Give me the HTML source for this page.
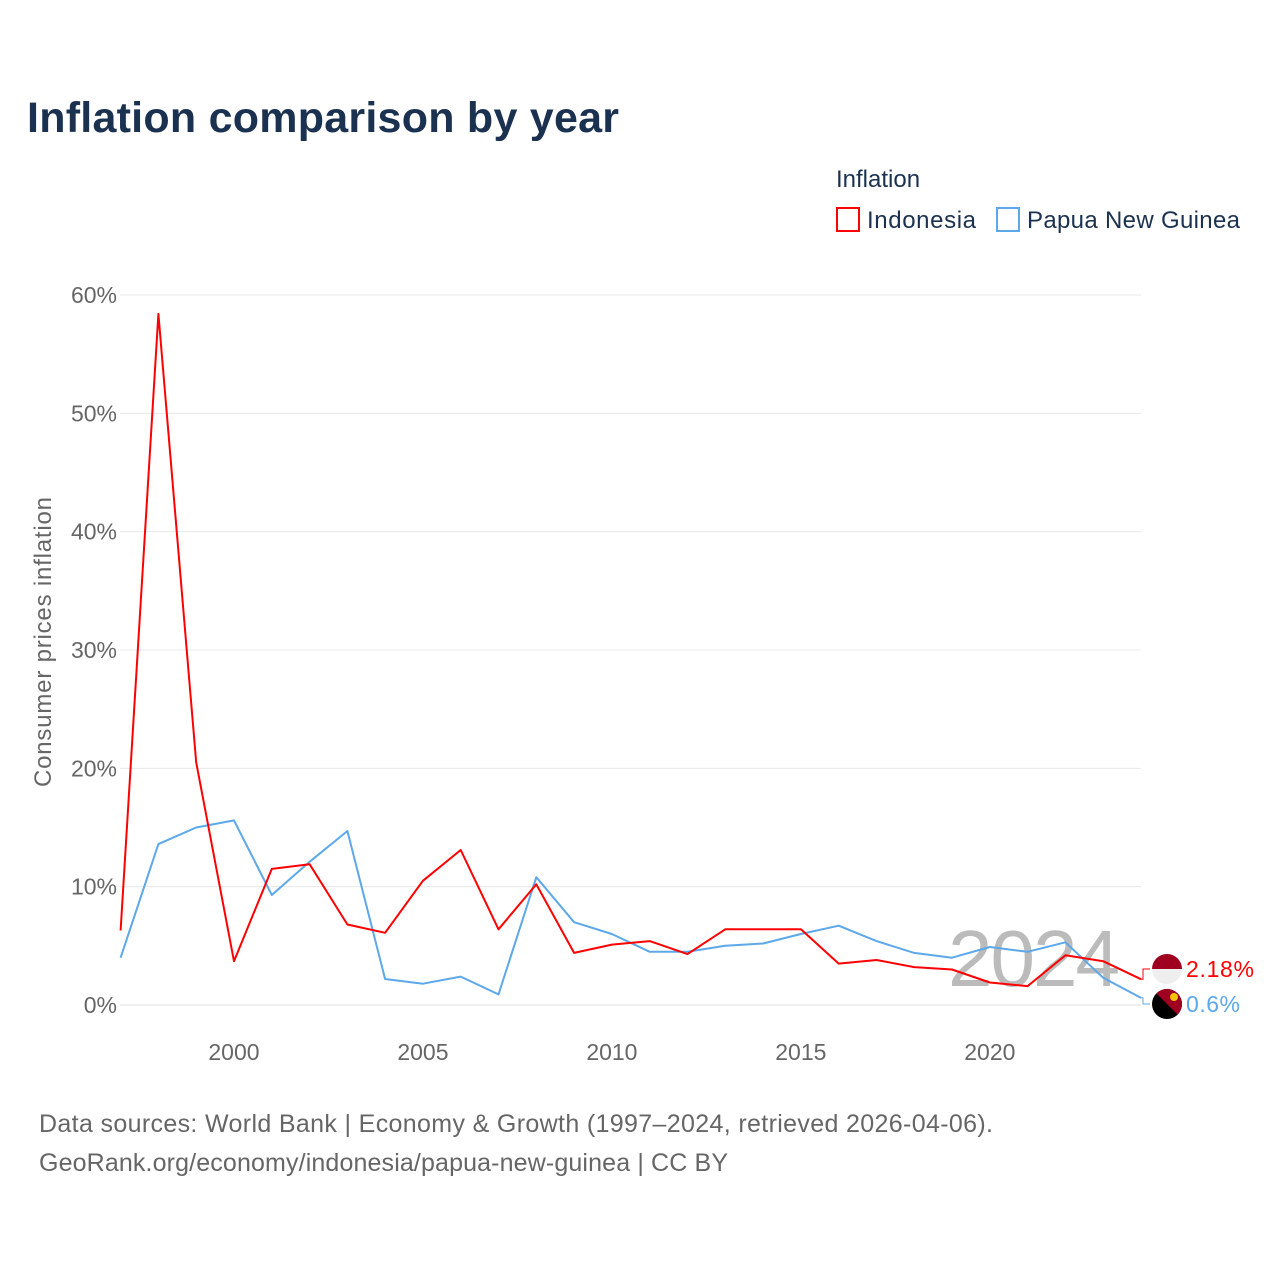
<!DOCTYPE html>
<html><head><meta charset="utf-8"><style>
body{margin:0;background:#fff;font-family:"Liberation Sans",sans-serif;}
svg text{font-family:"Liberation Sans",sans-serif;}
</style></head><body>
<svg width="1280" height="1280" viewBox="0 0 1280 1280" xmlns="http://www.w3.org/2000/svg">
<text x="27" y="132" font-size="43" font-weight="bold" fill="#1b3150" textLength="592">Inflation comparison by year</text>
<text x="836" y="187" font-size="24" fill="#1b3150">Inflation</text>
<g><rect x="837" y="208" width="22" height="23" fill="none" stroke="#f00" stroke-width="2"/><text x="867" y="228" font-size="24" fill="#1b3150" textLength="109">Indonesia</text></g>
<g><rect x="997" y="208" width="22" height="23" fill="none" stroke="#5ca8ea" stroke-width="2"/><text x="1027" y="228" font-size="24" fill="#1b3150" textLength="213">Papua New Guinea</text></g>
<g id="grid"></g>
<g id="yt"></g>
<g id="xt"></g>
<text transform="translate(51,642) rotate(-90)" text-anchor="middle" font-size="24" fill="#666" textLength="290">Consumer prices inflation</text>
<text x="948" y="986" font-size="80" fill="#bbb" textLength="172">2024</text>
<g id="series"></g>
<g><clipPath id="c1"><circle cx="1167" cy="969" r="15"/></clipPath><g clip-path="url(#c1)"><rect x="1150" y="952" width="34" height="17" fill="#a00020"/><rect x="1150" y="969" width="34" height="17" fill="#eee"/></g></g>
<g><clipPath id="c2"><circle cx="1167" cy="1004" r="15"/></clipPath><g clip-path="url(#c2)"><rect x="1150" y="987" width="34" height="34" fill="#000"/><polygon points="1150,987 1184,987 1184,1021" fill="#a00020"/><circle cx="1174" cy="997" r="4" fill="#f5c400"/></g></g>
<text x="1186" y="977" font-size="23" fill="#f00" textLength="68">2.18%</text>
<text x="1186" y="1012" font-size="23" fill="#5ca8ea" textLength="54">0.6%</text>
<text x="39" y="1132" font-size="25" fill="#666" textLength="954">Data sources: World Bank | Economy &amp; Growth (1997–2024, retrieved 2026-04-06).</text>
<text x="39" y="1171" font-size="25" fill="#666" textLength="689">GeoRank.org/economy/indonesia/papua-new-guinea | CC BY</text>
</svg>
<script>
const years=[1997,1998,1999,2000,2001,2002,2003,2004,2005,2006,2007,2008,2009,2010,2011,2012,2013,2014,2015,2016,2017,2018,2019,2020,2021,2022,2023,2024];
const indonesia=[6.3,58.4,20.5,3.7,11.5,11.9,6.8,6.1,10.5,13.1,6.4,10.2,4.4,5.1,5.4,4.3,6.4,6.4,6.4,3.5,3.8,3.2,3.0,1.9,1.6,4.2,3.7,2.18];
const png=[4.0,13.6,15.0,15.6,9.3,12.1,14.7,2.2,1.8,2.4,0.9,10.8,7.0,6.0,4.5,4.5,5.0,5.2,6.0,6.7,5.4,4.4,4.0,4.9,4.5,5.3,2.3,0.6];
const yTicks=[0,10,20,30,40,50,60];
const xTicks=[2000,2005,2010,2015,2020];
const NS="http://www.w3.org/2000/svg";
const xs=y=>120.6+(y-1997)*(1141-120.6)/27;
const ys=v=>1005-v*710/60;
function mk(t,a,p){const e=document.createElementNS(NS,t);for(const k in a)e.setAttribute(k,a[k]);p.appendChild(e);return e;}
const grid=document.getElementById('grid'),yt=document.getElementById('yt'),xt=document.getElementById('xt'),ser=document.getElementById('series');
yTicks.forEach(v=>{
 const l=mk('line',{x1:120,x2:1141,y1:ys(v),y2:ys(v),stroke:v===0?'#ddd':'#e8e8e8','stroke-width':1},grid);
 
 
 const t=mk('text',{x:117,y:ys(v)+8,'text-anchor':'end','font-size':23,fill:'#666'},yt);t.textContent=v+'%';
 
 
});
xTicks.forEach(y=>{
 const t=mk('text',{x:xs(y),y:1060,'text-anchor':'middle','font-size':23,fill:'#666'},xt);t.textContent=y;
 
 
});
function line(vals,color,name,ly){
 const d=vals.map((v,i)=>(i?'L':'M')+xs(years[i]).toFixed(1)+','+ys(v).toFixed(1)).join('');
 const p=mk('path',{d:d,fill:'none',stroke:color,'stroke-width':2,'stroke-linejoin':'round'},ser);
 
 
 const lv=vals[vals.length-1];
 const c=mk('path',{d:`M${xs(2024)},${ys(lv)}L1143,${ys(lv)}L1143,${ly}L1150,${ly}`,fill:'none',stroke:color,'stroke-width':1},ser);
 
 
}
line(png,'#5ca8ea','line-png',1004);
line(indonesia,'#f00','line-indonesia',969);
</script>
</body></html>
